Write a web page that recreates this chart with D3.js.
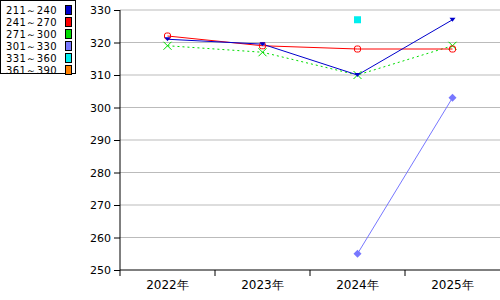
<!DOCTYPE html>
<html>
<head>
<meta charset="utf-8">
<script src="https://cdn.jsdelivr.net/npm/d3@7"></script>
<style>
  body { margin: 0; background: #fff; }
  text { font-family: "DejaVu Sans", sans-serif; }
</style>
</head>
<body>
<div id="chart"></div>
<script>
// Data
var years = ["2022年", "2023年", "2024年", "2025年"];
var seriesNames = ["211～240", "241～270", "271～300", "301～330", "331～360", "361～390"];
var seriesColors = ["#0000cc", "#ff0000", "#00dd00", "#7777ff", "#00eeee", "#ff8000"];
var s211 = [321, 319.5, 310, 327];
var s241 = [322, 319, 318, 318];
var s271 = [319, 317, 310, 319];
var s301 = [null, null, 255, 303];
var s331 = [null, null, 327, null];
var s361 = [null, null, null, null];
var yTicks = [250, 260, 270, 280, 290, 300, 310, 320, 330];

var svgWidth = 500;
var svgHeight = 300;
var margin = { top: 10, right: 0, bottom: 30, left: 120 };
var chartWidth = svgWidth - margin.left - margin.right;
var chartHeight = svgHeight - margin.top - margin.bottom;

var svg = d3.select("#chart")
  .append("svg")
  .attr("width", svgWidth)
  .attr("height", svgHeight);

var chartGroup = svg.append("g")
  .attr("transform", `translate(${margin.left}, ${margin.top})`);

var x = d3.scaleBand().domain(years).range([0, chartWidth]);
var y = d3.scaleLinear().domain([250, 330]).range([chartHeight, 0]);

// gridlines
chartGroup.selectAll(".grid")
  .data(yTicks.slice(1))
  .enter()
  .append("line")
  .attr("x1", 0)
  .attr("x2", chartWidth)
  .attr("y1", d => y(d))
  .attr("y2", d => y(d))
  .attr("stroke", "#bbbbbb")
  .attr("stroke-width", 1);

// axes
var leftAxis = d3.axisLeft(y).tickValues(yTicks).tickSize(6).tickPadding(3);
var yAxisG = chartGroup.append("g").call(leftAxis);
yAxisG.select(".domain").remove();
yAxisG.append("line")
  .attr("x1", 0).attr("x2", 0).attr("y1", 0).attr("y2", chartHeight)
  .attr("stroke", "#000");
yAxisG.selectAll("text").attr("font-size", 11).attr("fill", "#000")
  .style("font-family", "DejaVu Sans, sans-serif");

var xAxisG = chartGroup.append("g")
  .attr("transform", `translate(0, ${chartHeight})`);
xAxisG.append("line")
  .attr("x1", 0).attr("x2", chartWidth).attr("y1", 0).attr("y2", 0)
  .attr("stroke", "#000");
xAxisG.selectAll(".tick")
  .data(years)
  .enter()
  .append("line")
  .attr("x1", d => x(d)).attr("x2", d => x(d))
  .attr("y1", 0).attr("y2", 6)
  .attr("stroke", "#000");
xAxisG.selectAll(".lbl")
  .data(years)
  .enter()
  .append("text")
  .attr("x", d => x(d) + x.bandwidth() / 2)
  .attr("y", 19)
  .attr("text-anchor", "middle")
  .attr("font-size", 12)
  .text(d => d);

var cx = (d, i) => x(years[i]) + x.bandwidth() / 2;

function drawLine(values, color, dash) {
  var line = d3.line()
    .defined(d => d !== null)
    .x((d, i) => cx(d, i))
    .y(d => y(d));
  chartGroup.append("path")
    .datum(values)
    .attr("d", line)
    .attr("fill", "none")
    .attr("stroke", color)
    .attr("stroke-width", 1)
    .attr("stroke-dasharray", dash || null);
}

function pts(values) {
  return values.map((v, i) => ({ v: v, i: i })).filter(d => d.v !== null);
}

drawLine(s301, seriesColors[3]);
drawLine(s271, seriesColors[2], "2,3");
drawLine(s241, seriesColors[1]);
drawLine(s211, seriesColors[0]);

// markers: 301~330 diamonds
chartGroup.selectAll(".m301")
  .data(pts(s301))
  .enter()
  .append("path")
  .attr("transform", d => `translate(${cx(d, d.i)}, ${y(d.v)})`)
  .attr("d", "M0,-4L4,0L0,4L-4,0Z")
  .attr("fill", seriesColors[3]);

// 271~300 crosses
chartGroup.selectAll(".m271")
  .data(pts(s271))
  .enter()
  .append("path")
  .attr("transform", d => `translate(${cx(d, d.i)}, ${y(d.v)})`)
  .attr("d", "M-4,-4L4,4M4,-4L-4,4")
  .attr("stroke", seriesColors[2])
  .attr("fill", "none");

// 241~270 open circles
chartGroup.selectAll(".m241")
  .data(pts(s241))
  .enter()
  .append("rect")
  .attr("x", d => cx(d, d.i) - 3)
  .attr("y", d => y(d.v) - 3)
  .attr("width", 6)
  .attr("height", 6)
  .attr("rx", 2)
  .attr("fill", "none")
  .attr("stroke", seriesColors[1]);

// 211~240 down triangles
chartGroup.selectAll(".m211")
  .data(pts(s211))
  .enter()
  .append("path")
  .attr("transform", d => `translate(${cx(d, d.i)}, ${y(d.v)})`)
  .attr("d", "M-3,-2L3,-2L0,2Z")
  .attr("fill", seriesColors[0]);

// 331~360 squares
chartGroup.selectAll(".m331")
  .data(pts(s331))
  .enter()
  .append("rect")
  .attr("x", d => cx(d, d.i) - 3.5)
  .attr("y", d => y(d.v) - 3.5)
  .attr("width", 7)
  .attr("height", 7)
  .attr("fill", seriesColors[4]);

// legend
var legend = svg.append("g");
legend.append("rect")
  .attr("x", 0.5).attr("y", 0.5)
  .attr("width", 75).attr("height", 73)
  .attr("fill", "#fff")
  .attr("stroke", "#000");
var rows = legend.selectAll(".row")
  .data(seriesNames)
  .enter()
  .append("g")
  .attr("transform", (d, i) => `translate(0, ${i * 12})`);
rows.append("text")
  .attr("x", 6)
  .attr("y", 14)
  .attr("font-size", 10)
  .attr("letter-spacing", 0.4)
  .text(d => d);
rows.append("rect")
  .attr("x", 65.5).attr("y", 5.5)
  .attr("width", 6).attr("height", 9)
  .attr("fill", (d, i) => seriesColors[i])
  .attr("stroke", "#000");
</script>
</body>
</html>
